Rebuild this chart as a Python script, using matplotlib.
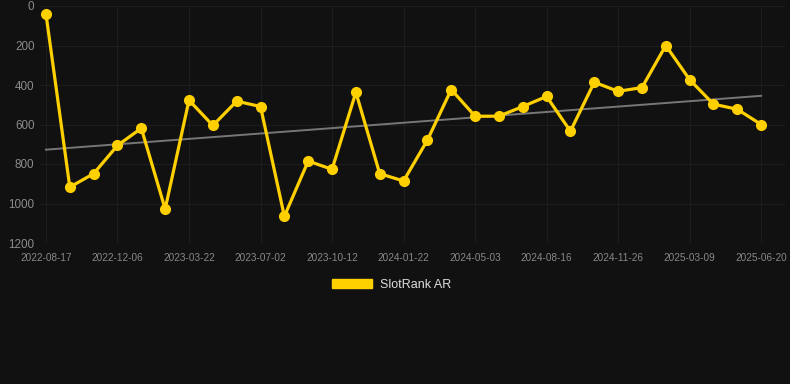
import numpy as np
import matplotlib.pyplot as plt
from matplotlib.patches import Patch

# ranks (lower is better, y axis inverted)
ranks = [40, 917, 849, 706, 619, 1028, 477, 605, 482, 509,
         1065, 785, 827, 437, 849, 886, 679, 423, 558, 558,
         509, 458, 634, 386, 432, 413, 200, 373, 497, 523, 600]
tick_labels = ["2022-08-17", "2022-12-06", "2023-03-22", "2023-07-02",
               "2023-10-12", "2024-01-22", "2024-05-03", "2024-08-16",
               "2024-11-26", "2025-03-09", "2025-06-20"]
y_ticks = [0, 200, 400, 600, 800, 1000, 1200]
series_name = "SlotRank AR"

bg = "#111111"
gold = "#FFD000"

plt.rcParams['font.family'] = ['Liberation Sans', 'DejaVu Sans']

fig = plt.figure(figsize=(7.9, 3.84), dpi=100, facecolor=bg)
ax = fig.add_axes([40 / 790, 1 - 243 / 384, 745 / 790, 237 / 384])
ax.set_facecolor(bg)

x = np.arange(len(ranks))
ax.plot(x, ranks, color=gold, lw=2.3, marker='o', ms=7, zorder=3)

# linear trend
k, b = np.polyfit(x, ranks, 1)
ax.plot([x[0], x[-1]], [k * x[0] + b, k * x[-1] + b], color="#777777", lw=1.4, zorder=2)

ax.set_xlim(-0.25, len(ranks))
ax.set_ylim(1200, 0)
ax.set_yticks(y_ticks)
ax.set_xticks(x[::3])
ax.set_xticklabels(tick_labels)

ax.grid(True, color="#1d1d1d", lw=0.8)
ax.set_axisbelow(True)
for s in ax.spines.values():
    s.set_visible(False)
ax.tick_params(axis='x', length=0, pad=7.5, labelsize=7.2, labelcolor="#888888")
ax.tick_params(axis='y', length=0, pad=4, labelsize=8.4, labelcolor="#8c8c8c")

fig.legend(handles=[Patch(color=gold, label=series_name)], loc='center',
           bbox_to_anchor=(0.496, 0.258), frameon=False, fontsize=9,
           labelcolor="#dddddd", handlelength=3.2, handleheight=0.8, handletextpad=0.6)

fig.savefig("out.png", dpi=100, facecolor=bg)
